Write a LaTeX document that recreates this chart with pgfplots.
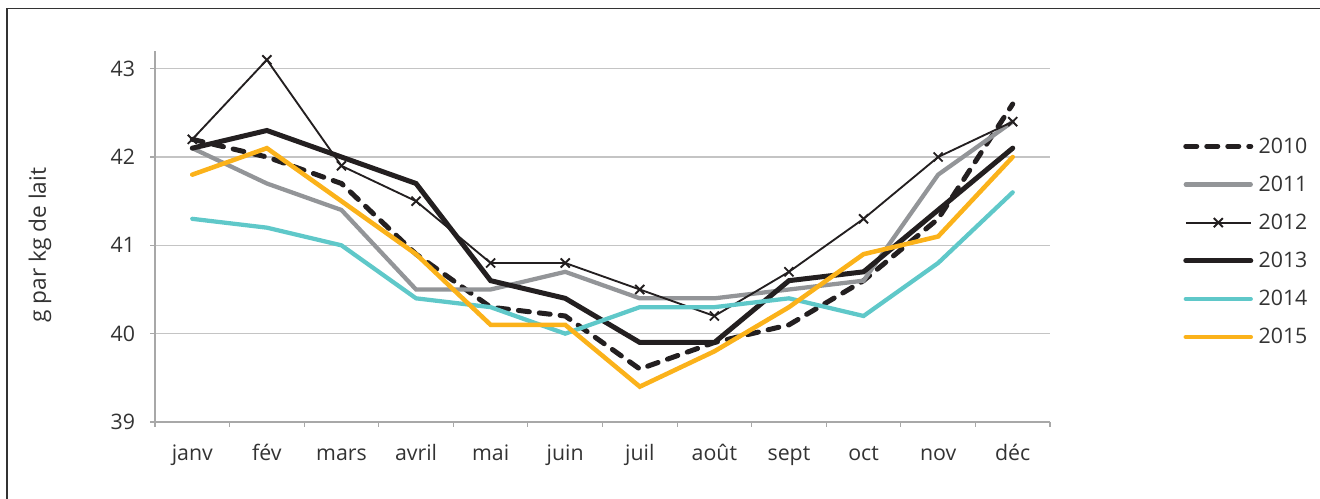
\documentclass[border=0pt]{standalone}
\usepackage{pgfplots}
\pgfplotsset{compat=1.18}
\usepackage{fontspec}
\setmainfont{Open Sans}
\definecolor{cblack}{HTML}{231F20}
\definecolor{cgray}{HTML}{939598}
\definecolor{cteal}{HTML}{5FC8C9}
\definecolor{cyellow}{HTML}{FBB21A}
\definecolor{cgrid}{HTML}{C4C4C4}
\definecolor{caxis}{HTML}{A8A8A8}
\definecolor{ctext}{HTML}{333333}
\begin{document}
\begin{tikzpicture}
\useasboundingbox (0,0) rectangle (990pt,374.25pt);
\draw[color=ctext, line width=1.1pt] (5.2pt,0) -- (5.2pt,368pt) -- (990pt,368pt);
\begin{axis}[
  at={(116.25pt,57.75pt)}, anchor=south west,
  scale only axis, width=671.25pt, height=278.25pt,
  xmin=-0.5, xmax=11.5, ymin=39, ymax=43.2,
  axis x line*=bottom, axis y line*=left,
  axis line style={color=caxis, line width=0.8pt, -},
  xtick={-0.5,0.5,...,11.5},
  xticklabels={janv,fév,mars,avril,mai,juin,juil,août,sept,oct,nov,déc,{}},
  xticklabel style={xshift=27.97pt, yshift=-25.5pt, inner sep=0pt, anchor=base},
  ytick={39,40,41,42,43},
  yticklabel style={xshift=-11pt, inner sep=0pt, anchor=east},
  tick align=outside, major tick length=3.75pt,
  tick style={color=caxis, line width=0.8pt},
  ymajorgrids, grid style={color=cgrid, line width=0.8pt},
  font=\fontsize{16}{19}\selectfont, text=ctext,
  /pgf/number format/assume math mode=true,
  ylabel={g par kg de lait},
  ylabel style={at={(axis description cs:-0.1285,0.477)}, anchor=center, font=\fontsize{17}{20}\selectfont},
  legend style={draw=none, fill=none, at={(1.1486,0.486)}, anchor=west, inner sep=0pt, row sep=11.5pt, column sep=2pt, font=\fontsize{16}{19}\selectfont, text=ctext},
  legend cell align=left,
  legend image code/.code={\draw[mark repeat=2,mark phase=2,#1] plot coordinates {(0pt,0pt) (24.4pt,0pt) (48.75pt,0pt)};},
]
\addplot[color=cblack, line width=3.75pt, dash pattern=on 8.25pt off 7.5pt, line cap=round, mark=none] coordinates {
(0,42.2) (1,42.0) (2,41.7) (3,40.9) (4,40.3) (5,40.2) (6,39.6) (7,39.9) (8,40.1) (9,40.6) (10,41.3) (11,42.6)};
\addlegendentry{2010}
\addplot[color=cgray, line width=3.2pt, line cap=round, mark=none] coordinates {
(0,42.1) (1,41.7) (2,41.4) (3,40.5) (4,40.5) (5,40.7) (6,40.4) (7,40.4) (8,40.5) (9,40.6) (10,41.8) (11,42.4)};
\addlegendentry{2011}
\addplot[color=cblack, line width=1.4pt, mark=x, mark size=4.8pt, mark options={line width=1.4pt}] coordinates {
(0,42.2) (1,43.1) (2,41.9) (3,41.5) (4,40.8) (5,40.8) (6,40.5) (7,40.2) (8,40.7) (9,41.3) (10,42.0) (11,42.4)};
\addlegendentry{2012}
\addplot[color=cblack, line width=3.75pt, line cap=round, mark=none] coordinates {
(0,42.1) (1,42.3) (2,42.0) (3,41.7) (4,40.6) (5,40.4) (6,39.9) (7,39.9) (8,40.6) (9,40.7) (10,41.4) (11,42.1)};
\addlegendentry{2013}
\addplot[color=cteal, line width=3.2pt, line cap=round, mark=none] coordinates {
(0,41.3) (1,41.2) (2,41.0) (3,40.4) (4,40.3) (5,40.0) (6,40.3) (7,40.3) (8,40.4) (9,40.2) (10,40.8) (11,41.6)};
\addlegendentry{2014}
\addplot[color=cyellow, line width=3.4pt, line cap=round, mark=none] coordinates {
(0,41.8) (1,42.1) (2,41.5) (3,40.9) (4,40.1) (5,40.1) (6,39.4) (7,39.8) (8,40.3) (9,40.9) (10,41.1) (11,42.0)};
\addlegendentry{2015}
\end{axis}
\end{tikzpicture}
\end{document}
